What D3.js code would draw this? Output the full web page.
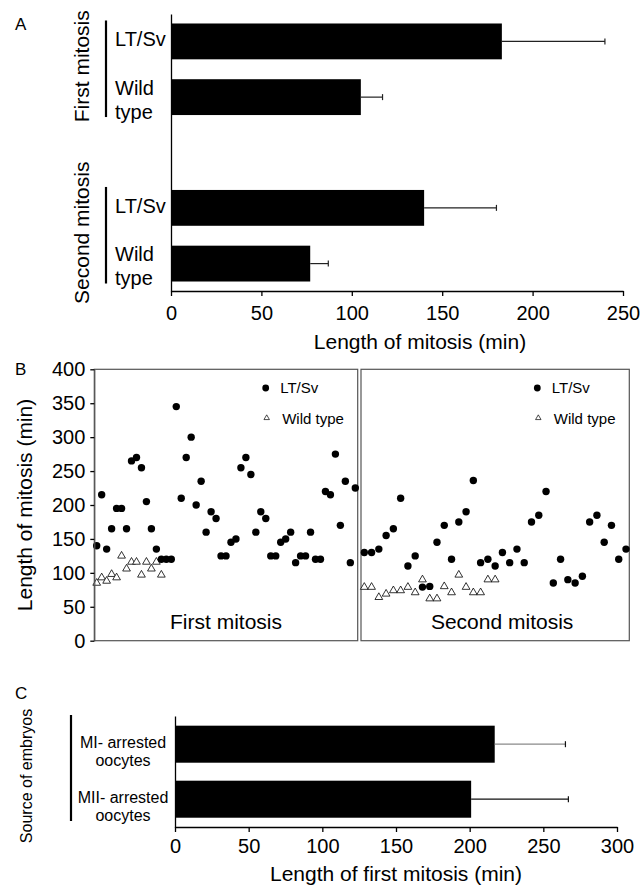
<!DOCTYPE html>
<html>
<head>
<meta charset="utf-8">
<script src="https://cdn.jsdelivr.net/npm/d3@7"></script>
<style>
  html, body { margin: 0; padding: 0; background: #fff; }
  svg { display: block; }
</style>
</head>
<body>
<svg id="chart" width="643" height="889"></svg>
<script>
// -------- Panel A data --------
const aGroups = ["First mitosis", "Second mitosis"];
const aStrains = ["LT/Sv", "Wild type"];
const aStrainLines = [["LT/Sv"], ["Wild", "type"]];
const aMeans = [[183, 105], [140, 77]];
const aErrors = [[57, 12], [40, 10]];
const aTicks = [0, 50, 100, 150, 200, 250];

// -------- Panel B data (one value per embryo) --------
const bTicks = [0, 50, 100, 150, 200, 250, 300, 350, 400];
const bSeries = ["LT/Sv", "Wild type"];
const firstLT = [140, 215, 135, 165, 195, 195, 165, 265, 270, 255, 205, 165, 135, 120, 120, 120,
  345, 210, 270, 300, 200, 235, 160, 190, 180, 125, 125, 145, 150, 255, 270, 245, 160, 190, 180,
  125, 125, 145, 150, 160, 115, 125, 125, 160, 120, 120, 220, 215, 275, 170, 235, 115, 225];
const firstWT = [85, 93, 88, 98, 93, 125, 106, 116, 116, 97, 116, 106, 116, 97];
const secondLT = [130, 130, 135, 155, 165, 210, 110, 125, 79, 80, 145, 170, 120, 175, 190, 236,
  115, 120, 110, 130, 115, 135, 115, 175, 185, 220, 85, 120, 90, 85, 95, 175, 185, 145, 170, 120, 135];
const secondWT = [79, 79, 64, 69, 74, 74, 79, 71, 90, 62, 62, 80, 71, 97, 79, 71, 71, 90, 90];

// -------- Panel C data --------
const cSources = ["MI- arrested oocytes", "MII- arrested oocytes"];
const cSourceLines = [["MI- arrested", "oocytes"], ["MII- arrested", "oocytes"]];
const cMeans = [217, 201];
const cErrors = [48, 66];
const cTicks = [0, 50, 100, 150, 200, 250, 300];

const FONT = "'Liberation Sans', Arial, Helvetica, sans-serif";
const svg = d3.select("#chart").attr("font-family", FONT);

function styleAxis(g, size) {
  g.attr("font-family", FONT).attr("font-size", size);
  g.selectAll("path, line").attr("stroke", "#000").attr("stroke-width", 1.3);
  g.selectAll("text").attr("fill", "#000");
}

function panelLetter(letter, y) {
  svg.append("text").attr("x", 15).attr("y", y).attr("font-size", 17).text(letter);
}

// ================= Panel A =================
const xA = d3.scaleLinear().domain([0, 250]).range([171, 623]);
const gA = d3.scaleBand().domain(aGroups).range([14, 291]).paddingInner(0.45).paddingOuter(0.057);
const sA = d3.scaleBand().domain(aStrains).range([0, gA.bandwidth()]).paddingInner(0.357);

panelLetter("A", 30);

aGroups.forEach((grp, gi) => {
  const g = svg.append("g").attr("transform", `translate(0,${gA(grp)})`);

  // bars
  g.selectAll("rect")
    .data(aStrains)
    .join("rect")
    .attr("x", xA(0))
    .attr("y", d => sA(d))
    .attr("width", (d, si) => xA(aMeans[gi][si]) - xA(0))
    .attr("height", sA.bandwidth())
    .attr("fill", "#000");

  // error bars
  aStrains.forEach((s, si) => {
    const cy = sA(s) + sA.bandwidth() / 2;
    const x1 = xA(aMeans[gi][si]);
    const x2 = xA(aMeans[gi][si] + aErrors[gi][si]);
    g.append("line").attr("x1", x1).attr("x2", x2).attr("y1", cy).attr("y2", cy)
      .attr("stroke", "#222").attr("stroke-width", 1.2);
    g.append("line").attr("x1", x2).attr("x2", x2).attr("y1", cy - 3).attr("y2", cy + 3)
      .attr("stroke", "#222").attr("stroke-width", 1.2);

    // strain labels
    const lines = aStrainLines[si];
    lines.forEach((txt, li) => {
      const off = lines.length === 1 ? 5 : (li === 0 ? -2.5 : 21.5);
      g.append("text").attr("x", 115).attr("y", cy + off)
        .attr("font-size", 20).text(txt);
    });
  });

  // group bracket
  g.append("line")
    .attr("x1", 106).attr("x2", 106)
    .attr("y1", -3).attr("y2", gA.bandwidth() + 2)
    .attr("stroke", "#000").attr("stroke-width", 2.2);

  // rotated group label
  const cy = gA.bandwidth() / 2 - 3;
  g.append("text")
    .attr("transform", `translate(82,${cy}) rotate(-90)`)
    .attr("text-anchor", "middle").attr("dy", "0.35em")
    .attr("font-size", 21).text(grp);
});

svg.append("g").attr("transform", "translate(0,291)")
  .call(d3.axisBottom(xA).tickValues(aTicks).tickSize(5).tickSizeOuter(0).tickPadding(10))
  .call(g => styleAxis(g, 20));

svg.append("g").attr("transform", `translate(${xA(0)},0)`)
  .call(d3.axisLeft(gA).tickSize(0).tickSizeOuter(0).tickFormat(""))
  .call(g => styleAxis(g, 20));

svg.append("text").attr("x", 420).attr("y", 349).attr("text-anchor", "middle")
  .attr("font-size", 21).text("Length of mitosis (min)");

// ================= Panel B =================
const yB = d3.scaleLinear().domain([0, 400]).range([640.7, 369.3]);
const panelsB = [
  { name: "First mitosis", left: 94.3, right: 357.7, lt: firstLT, wt: firstWT, pad: 2.4, labelShift: 0 },
  { name: "Second mitosis", left: 361, right: 629.3, lt: secondLT, wt: secondWT, pad: 3.3, labelShift: 7 }
];

panelLetter("B", 375);

const circleR = 3.7;
const tri = d3.symbol().type(d3.symbolTriangle);

panelsB.forEach(p => {
  const x = d3.scalePoint()
    .domain(d3.range(p.lt.length))
    .range([p.left + p.pad, p.right - p.pad]);

  svg.append("rect")
    .attr("x", p.left).attr("y", yB(400))
    .attr("width", p.right - p.left).attr("height", yB(0) - yB(400))
    .attr("fill", "none").attr("stroke", "#555").attr("stroke-width", 1.2);

  const g = svg.append("g");

  g.selectAll("path.wt")
    .data(p.wt)
    .join("path")
    .attr("class", "wt")
    .attr("d", tri.size(26))
    .attr("transform", (d, i) => `translate(${x(i)},${yB(d)})`)
    .attr("fill", "#fff").attr("stroke", "#000").attr("stroke-width", 0.8);

  g.selectAll("circle.lt")
    .data(p.lt)
    .join("circle")
    .attr("class", "lt")
    .attr("cx", (d, i) => x(i))
    .attr("cy", d => yB(d))
    .attr("r", circleR)
    .attr("fill", "#000");

  // legend
  const lx = p.right - 92;
  const lg = svg.append("g").attr("font-size", 15);
  lg.append("circle").attr("cx", lx).attr("cy", 388).attr("r", 3.4).attr("fill", "#000");
  lg.append("text").attr("x", lx + 14.5).attr("y", 393).text(bSeries[0]);
  lg.append("path").attr("d", tri.size(13)()).attr("transform", `translate(${lx + 1},418)`)
    .attr("fill", "#fff").attr("stroke", "#000").attr("stroke-width", 0.7);
  lg.append("text").attr("x", lx + 16.5).attr("y", 424).text(bSeries[1]);

  svg.append("text")
    .attr("x", (p.left + p.right) / 2 + p.labelShift).attr("y", 629)
    .attr("text-anchor", "middle").attr("font-size", 21).text(p.name);
});

svg.append("g").attr("transform", "translate(94.3,0)")
  .call(d3.axisLeft(yB).tickValues(bTicks).tickSize(4).tickSizeOuter(0).tickPadding(5))
  .call(g => styleAxis(g, 20))
  .call(g => g.select(".domain").attr("stroke", "#555").attr("stroke-width", 1.2));

svg.append("text")
  .attr("transform", `translate(25,${(yB(0) + yB(400)) / 2}) rotate(-90)`)
  .attr("text-anchor", "middle").attr("dy", "0.35em")
  .attr("font-size", 21).text("Length of mitosis (min)");

// ================= Panel C =================
const xC = d3.scaleLinear().domain([0, 300]).range([175, 617]);
const yC = d3.scaleBand().domain(cSources).range([716, 827.4]).paddingInner(0.327).paddingOuter(0.176);

panelLetter("C", 699);

svg.append("g").selectAll("rect")
  .data(cSources)
  .join("rect")
  .attr("x", xC(0))
  .attr("y", d => yC(d))
  .attr("width", (d, i) => xC(cMeans[i]) - xC(0))
  .attr("height", yC.bandwidth())
  .attr("fill", "#000");

cSources.forEach((s, i) => {
  const cy = yC(s) + yC.bandwidth() / 2;
  const x1 = xC(cMeans[i]);
  const x2 = xC(cMeans[i] + cErrors[i]);
  const col = i === 0 ? "#8a8a8a" : "#111";
  svg.append("line").attr("x1", x1).attr("x2", x2).attr("y1", cy).attr("y2", cy)
    .attr("stroke", col).attr("stroke-width", 1.2);
  svg.append("line").attr("x1", x2).attr("x2", x2).attr("y1", cy - 3).attr("y2", cy + 3)
    .attr("stroke", "#111").attr("stroke-width", 1.2);

  cSourceLines[i].forEach((txt, li) => {
    svg.append("text").attr("x", 123).attr("y", cy + (li === 0 ? 4 : 22))
      .attr("text-anchor", "middle").attr("font-size", 16).text(txt);
  });
});

svg.append("line")
  .attr("x1", 71).attr("x2", 71).attr("y1", 715).attr("y2", 821)
  .attr("stroke", "#000").attr("stroke-width", 2.2);

svg.append("text")
  .attr("transform", "translate(26,776) rotate(-90)")
  .attr("text-anchor", "middle").attr("dy", "0.35em")
  .attr("font-size", 16).text("Source of embryos");

svg.append("g").attr("transform", "translate(0,827)")
  .call(d3.axisBottom(xC).tickValues(cTicks).tickSize(5).tickSizeOuter(0).tickPadding(6.5))
  .call(g => styleAxis(g, 20));

svg.append("g").attr("transform", `translate(${xC(0)},0)`)
  .call(d3.axisLeft(yC).tickSize(0).tickSizeOuter(0).tickFormat(""))
  .call(g => styleAxis(g, 20));

svg.append("text").attr("x", (xC(0) + xC(300)) / 2).attr("y", 881).attr("text-anchor", "middle")
  .attr("font-size", 21).text("Length of first mitosis (min)");
</script>
</body>
</html>
